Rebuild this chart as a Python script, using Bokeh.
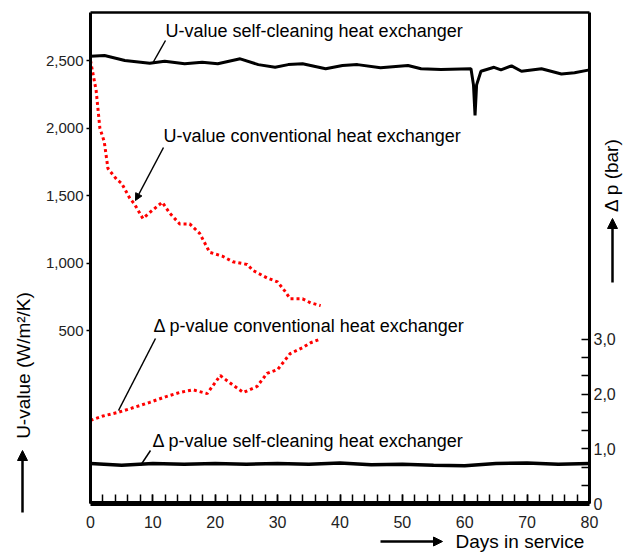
from math import pi
from bokeh.plotting import figure
from bokeh.embed import file_html
from bokeh.resources import INLINE
from bokeh.models import (Range1d, LinearAxis, FixedTicker, NumeralTickFormatter,
                          CustomJSTickFormatter, Label, Arrow, NormalHead)

# ---------------- data ----------------
sc_u_days = [0, 2.25, 5.5, 9.5, 11.9, 15.1, 17.9, 20.4, 24.0, 26.9, 29.6, 31.7, 34.0,
             37.7, 40.4, 42.8, 46.5, 50.9, 53.0, 56.2, 61.0, 61.4, 61.65, 61.9, 62.6,
             64.7, 65.8, 67.5, 69.1, 72.3, 75.5, 77.6, 80]
sc_u = [2532, 2537, 2500, 2480, 2495, 2476, 2487, 2476, 2513, 2470, 2450, 2470, 2476,
        2439, 2463, 2470, 2446, 2463, 2439, 2433, 2439, 2320, 2093, 2320, 2421,
        2450, 2431, 2461, 2421, 2439, 2401, 2409, 2431]

conv_u_days = [0, 0.9, 1.5, 2.2, 2.8, 4.2, 5.0, 6.3, 7.0, 8.4, 9.9, 11.5, 12.7, 14.3,
               15.9, 17.5, 19.1, 21.2, 22.8, 25.1, 26.1, 28.3, 30.0, 31.2, 32.0, 34.0,
               35.3, 36.9]
conv_u = [2500, 2280, 2000, 1900, 1700, 1620, 1590, 1480, 1440, 1330, 1390, 1450, 1370,
          1290, 1290, 1220, 1080, 1050, 1010, 990, 944, 890, 860, 790, 735, 735, 705, 685]

conv_dp_days = [0, 2.0, 4.2, 6.5, 9.5, 12.0, 14.3, 16.4, 18.7, 20.8, 22.9, 24.5, 26.7,
                28.3, 30.0, 32.0, 34.0, 35.3, 36.7]
conv_dp = [1.52, 1.60, 1.66, 1.74, 1.85, 1.95, 2.03, 2.08, 2.01, 2.34, 2.16, 2.03, 2.14,
           2.38, 2.45, 2.74, 2.85, 2.94, 3.0]

sc_dp_days = [0, 5, 10, 15, 20, 25, 30, 35, 40, 45, 50, 55, 60, 65, 70, 75, 80]
sc_dp = [0.73, 0.70, 0.73, 0.72, 0.73, 0.72, 0.73, 0.72, 0.74, 0.71, 0.72, 0.70, 0.69,
         0.73, 0.74, 0.72, 0.73]

u_ticks = [500, 1000, 1500, 2000, 2500]
dp_ticks = [0, 1, 2, 3]
dp_minor = [1/3, 2/3, 4/3, 5/3, 7/3, 8/3]
day_ticks = [0, 10, 20, 30, 40, 50, 60, 70, 80]
day_minor = list(range(0, 81, 2))

# axis extents of the plotting box
X0, X1 = 0, 80
U0, U1 = -781, 2856
D0, D1 = 0, 8.98

# ---------------- layout geometry (pixels) ----------------
W, H = 626, 552
BL, BR, BT, BB = 90, 589, 12, 503   # box edges in page pixels

sx = (X1 - X0) / (BR - BL)
su = (U1 - U0) / (BB - BT)
sd = (D1 - D0) / (BB - BT)

def px(x):
    return X0 + (x - BL) * sx

def pu(y):
    return U0 + (BB - y) * su

def pd(y):
    return D0 + (BB - y) * sd

FONT = "Liberation Sans"

p = figure(width=W, height=H,
           x_range=Range1d(px(0), px(W)), y_range=Range1d(pu(H), pu(0)),
           output_backend="svg", toolbar_location=None,
           min_border_left=0, min_border_right=0, min_border_top=0, min_border_bottom=0)
p.extra_y_ranges = {"dp": Range1d(pd(H), pd(0))}
p.grid.visible = False
p.outline_line_color = None
p.background_fill_color = "white"
p.border_fill_color = "white"

# left axis (U-value)
ya = p.yaxis[0]
ya.fixed_location = X0
ya.bounds = (U0, U1)
ya.ticker = FixedTicker(ticks=u_ticks, minor_ticks=[])
ya.formatter = NumeralTickFormatter(format="0,0")
ya.axis_line_width = 3
ya.major_tick_out = 4
ya.major_tick_in = 0
ya.minor_tick_out = 0
ya.minor_tick_in = 0
ya.major_tick_line_width = 1.5
ya.major_label_standoff = 3
ya.major_label_text_font = FONT
ya.major_label_text_font_size = "15px"
ya.major_label_text_color = "#222222"

# bottom axis (days)
xa = p.xaxis[0]
xa.fixed_location = U0
xa.bounds = (X0, X1)
xa.ticker = FixedTicker(ticks=day_ticks, minor_ticks=day_minor)
xa.axis_line_width = 5
xa.major_tick_in = 9
xa.major_tick_out = 0
xa.minor_tick_in = 9
xa.minor_tick_out = 0
xa.major_tick_line_width = 1.5
xa.minor_tick_line_width = 1.5
xa.major_label_standoff = 12
xa.major_label_text_font = FONT
xa.major_label_text_font_size = "16px"
xa.major_label_text_color = "#222222"

# right axis (delta p)
ra = LinearAxis(y_range_name="dp", fixed_location=X1, bounds=(D0, D1),
                ticker=FixedTicker(ticks=dp_ticks, minor_ticks=dp_minor),
                formatter=CustomJSTickFormatter(
                    code="return tick == 0 ? '0' : tick.toFixed(1).replace('.', ',');"))
ra.axis_line_width = 3
ra.major_tick_in = 8
ra.major_tick_out = 0
ra.minor_tick_in = 8
ra.minor_tick_out = 0
ra.major_tick_line_width = 1.5
ra.minor_tick_line_width = 1.5
ra.major_label_standoff = 4
ra.major_label_text_font = FONT
ra.major_label_text_font_size = "16px"
ra.major_label_text_color = "#222222"
p.add_layout(ra, "right")

# top border
ta = LinearAxis(fixed_location=U1, bounds=(X0, X1), ticker=FixedTicker(ticks=[], minor_ticks=[]))
ta.axis_line_width = 2.5
ta.major_tick_in = 0
ta.major_tick_out = 0
ta.minor_tick_in = 0
ta.minor_tick_out = 0
p.add_layout(ta, "above")

# ---------------- curves ----------------
p.line(sc_u_days, sc_u, line_color="black", line_width=3)
p.line(conv_u_days, conv_u, line_color="#ff0000", line_width=3, line_dash="3 3")
p.line(conv_dp_days, conv_dp, line_color="#ff0000", line_width=3, line_dash="3 3",
       y_range_name="dp")
p.line(sc_dp_days, sc_dp, line_color="black", line_width=3.5, y_range_name="dp")

# ---------------- annotations (positions given in page pixels) ----------------
def lab(x, y, text, size="18px", angle=0, align="left"):
    p.add_layout(Label(x=px(x), y=pu(y), text=text, text_font=FONT,
                       text_font_size=size, text_color="black", text_align=align,
                       text_baseline="middle", angle=angle))

def seg(x0, y0, x1, y1, width=1.5, head=None):
    p.add_layout(Arrow(x_start=px(x0), y_start=pu(y0), x_end=px(x1), y_end=pu(y1),
                       line_color="black", line_width=width,
                       end=(NormalHead(size=head, fill_color="black", line_color="black")
                            if head else None)))

lab(165, 30, "U-value self-cleaning heat exchanger")
lab(163, 135, "U-value conventional heat exchanger")
lab(153, 325, "Δ p-value conventional heat exchanger")
lab(152, 440, "Δ p-value self-cleaning heat exchanger")

seg(165, 40, 152, 63)
seg(163, 147, 135, 200, head=7)
seg(155, 338, 118, 410)
seg(150, 450, 140, 465)

# axis titles with their arrows
lab(23, 365, "U-value (W/m²/K)", size="19px", angle=pi / 2, align="center")
seg(22, 512, 22, 450, width=2.5, head=10)

lab(611, 172, "Δ  p (bar)", size="19px", angle=pi / 2, align="center")
seg(612, 282, 612, 218, width=2.5, head=10)

lab(455, 541, "Days in service", size="19px")
seg(380, 541, 442, 541, width=2.5, head=9)

open("out.html", "w").write(file_html(p, INLINE))
